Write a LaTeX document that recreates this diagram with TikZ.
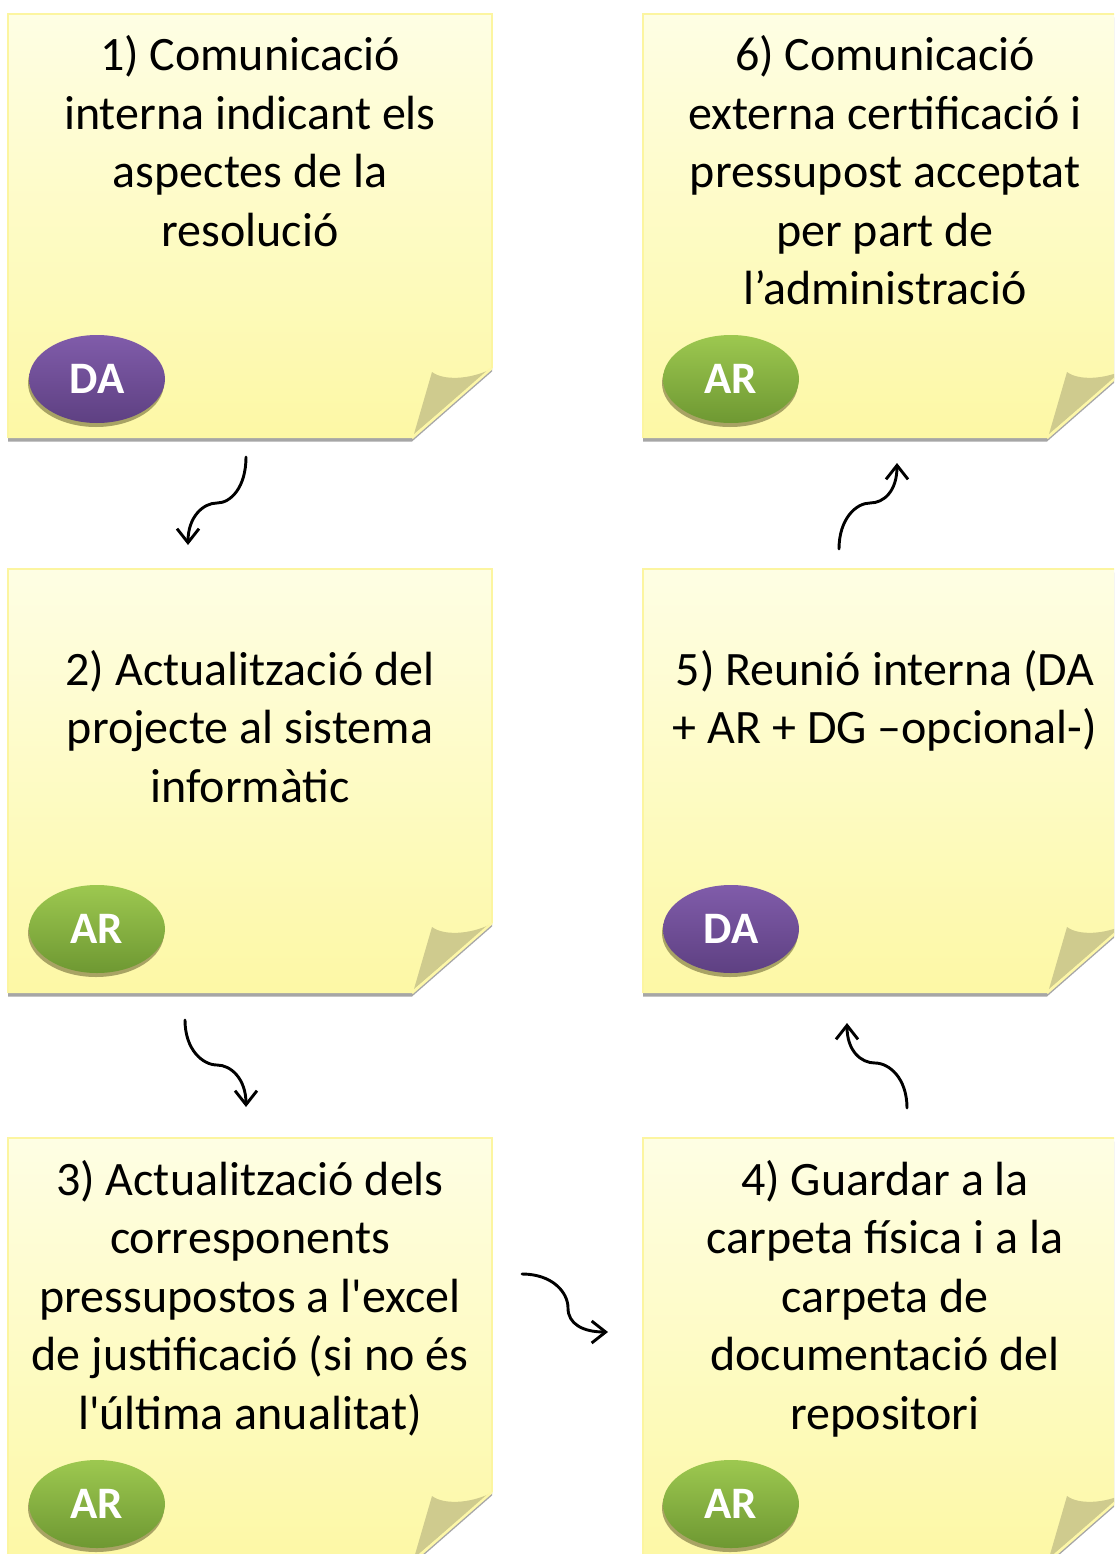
\documentclass[tikz,border=0pt]{standalone}
\usepackage{fontspec}
\newfontfamily\notefont{Carlito}
\usetikzlibrary{arrows.meta,shapes.geometric,calc}

\definecolor{papertop}{RGB}{254,254,228}
\definecolor{paperbottom}{RGB}{253,248,165}
\definecolor{paperedge}{RGB}{252,245,160}
\definecolor{papershadow}{RGB}{166,166,166}
\definecolor{flapcol}{RGB}{207,203,142}
\definecolor{flapedge}{RGB}{253,247,168}
\definecolor{purpletop}{RGB}{128,92,170}
\definecolor{purplebottom}{RGB}{94,64,130}
\definecolor{greentop}{RGB}{157,200,80}
\definecolor{greenbottom}{RGB}{110,152,50}
\definecolor{badgeshadow}{RGB}{168,163,100}

\tikzset{
  notetext/.style={inner sep=0pt, anchor=base, text=black},
  badge/.style={ellipse, minimum width=136pt, minimum height=88pt, inner sep=0pt,
    text=white, font=\notefont\bfseries\fontsize{45}{45}\selectfont,
    preaction={fill=badgeshadow, transform canvas={xshift=-1pt,yshift=-4pt}}},
  badgeDA/.style={badge, top color=purpletop, bottom color=purplebottom},
  badgeAR/.style={badge, top color=greentop, bottom color=greenbottom},
  flowarrow/.style={draw=black, line width=2.9pt, line cap=round,
    -{Straight Barb[length=14pt,width=22pt,line width=2.9pt]}}
}

\newcommand\stickynote[2]{%
  \begin{scope}[shift={(#1,#2)}]
    \fill[papershadow] (0,3.5) -- (484,3.5) -- (484,357.5) -- (404,427.5) -- (0,427.5) -- cycle;
    \shade[top color=papertop, bottom color=paperbottom]
      (0,0) -- (484,0) -- (484,354) -- (404,424) -- (0,424) -- cycle;
    \draw[paperedge, line width=1.5pt] (0,424) -- (0,0) -- (484,0) -- (484,354);
    \fill[flapcol] (406,420) -- (424,358) .. controls (436,367) and (462,365) .. (481,356) -- cycle;
    \draw[flapedge, line width=2.5pt] (484,354) -- (404,424);
  \end{scope}}

\newcommand\notebody[1]{\parbox[t]{600pt}{\notefont\fontsize{48}{58.5}\selectfont\centering #1}}

\begin{document}
\begin{tikzpicture}[x=1pt,y=-1pt]
  \useasboundingbox (0,0) rectangle (1114,1554);
  \clip (0,0) rectangle (1114,1554);
  \fill[white] (0,0) rectangle (1114,1554);

  % notes
  \stickynote{8}{14}
  \stickynote{8}{569}
  \stickynote{8}{1138}
  \stickynote{643}{14}
  \stickynote{643}{569}
  \stickynote{643}{1138}

  % texts
  \node[notetext] (t1) at (250,71) {\notebody{1) Comunicació\\interna indicant els\\aspectes de la\\resolució}};
  \node[notetext] (t2) at (250,685) {\notebody{2) Actualització del\\projecte al sistema\\informàtic}};
  \node[notetext] (t3) at (250,1195) {\notebody{3) Actualització dels\\corresponents\\pressupostos a l'excel\\de justificació (si no és\\l'última anualitat)}};
  \node[notetext] (t4) at (885,1195) {\notebody{4) Guardar a la\\carpeta física i a la\\carpeta de\\documentació del\\repositori}};
  \node[notetext] (t5) at (885,685) {\notebody{5) Reunió interna (DA\\+ AR + DG –opcional-)}};
  \node[notetext] (t6) at (885,71) {\notebody{6) Comunicació\\externa certificació i\\pressupost acceptat\\per part de\\l’administració}};

  % badges
  \node[badgeDA] (b1) at (97,379) {DA};
  \node[badgeAR] (b2) at (97,929) {AR};
  \node[badgeAR] (b3) at (97,1504) {AR};
  \node[badgeAR] (b4) at (731,1504) {AR};
  \node[badgeDA] (b5) at (731,929) {DA};
  \node[badgeAR] (b6) at (731,379) {AR};

  % arrow coordinates
  \coordinate (a1s) at (246,457); \coordinate (a1m) at (217,503); \coordinate (a1e) at (188,545);
  \coordinate (a2s) at (185,1020); \coordinate (a2m) at (217,1065); \coordinate (a2e) at (246,1107);
  \coordinate (a3s) at (522,1274); \coordinate (a3m) at (568,1308); \coordinate (a3e) at (608,1332);
  \coordinate (a4s) at (907,1108); \coordinate (a4m) at (875,1063); \coordinate (a4e) at (847,1023);
  \coordinate (a5s) at (839,549); \coordinate (a5m) at (870,503); \coordinate (a5e) at (897,463);

  \draw[flowarrow] (a1s) .. controls ($(a1s)+(0,30)$) and ($(a1m)+(14,0)$) .. (a1m)
                         .. controls ($(a1m)+(-14,0)$) and ($(a1e)+(0,-28)$) .. (a1e);
  \draw[flowarrow] (a2s) .. controls ($(a2s)+(0,30)$) and ($(a2m)+(-14,0)$) .. (a2m)
                         .. controls ($(a2m)+(14,0)$) and ($(a2e)+(0,-28)$) .. (a2e);
  \draw[flowarrow] (a3s) .. controls ($(a3s)+(30,0)$) and ($(a3m)+(0,-16)$) .. (a3m)
                         .. controls ($(a3m)+(0,16)$) and ($(a3e)+(-25,0)$) .. (a3e);
  \draw[flowarrow] (a4s) .. controls ($(a4s)+(0,-30)$) and ($(a4m)+(14,0)$) .. (a4m)
                         .. controls ($(a4m)+(-14,0)$) and ($(a4e)+(0,28)$) .. (a4e);
  \draw[flowarrow] (a5s) .. controls ($(a5s)+(0,-30)$) and ($(a5m)+(-14,0)$) .. (a5m)
                         .. controls ($(a5m)+(14,0)$) and ($(a5e)+(0,28)$) .. (a5e);
\end{tikzpicture}
\end{document}
